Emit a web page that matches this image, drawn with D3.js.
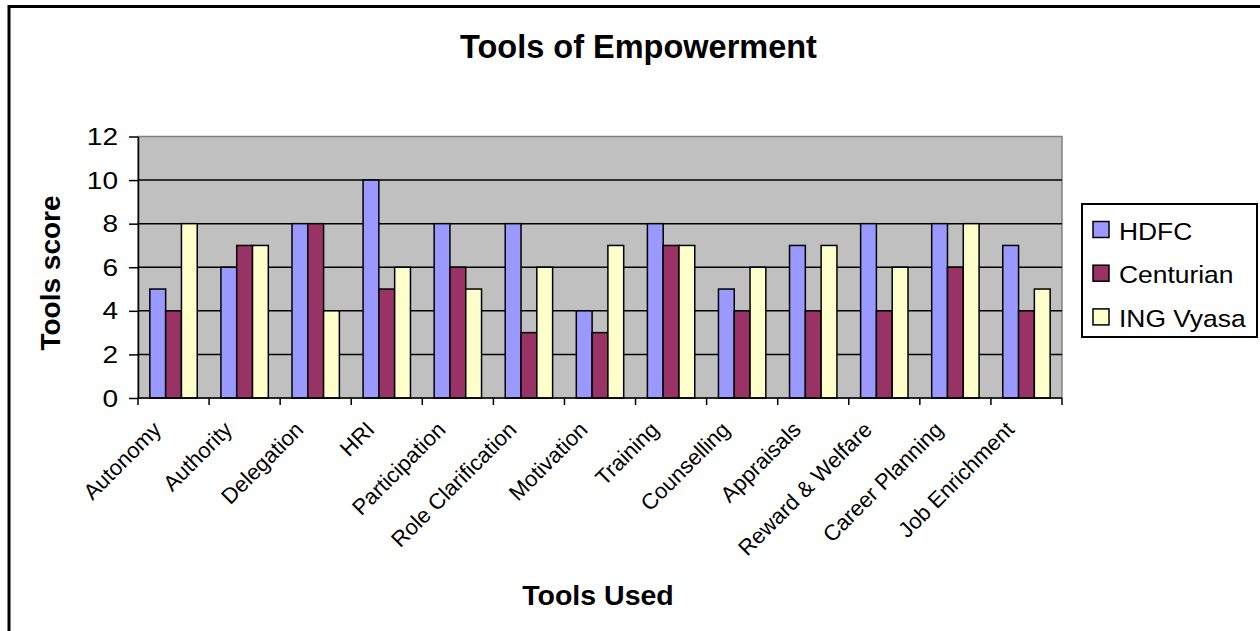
<!DOCTYPE html>
<html>
<head>
<meta charset="utf-8">
<script src="https://cdn.jsdelivr.net/npm/d3@7"></script>
<style>
  html, body { margin: 0; padding: 0; background: #fff; }
  svg { display: block; font-family: "Liberation Sans", Arial, sans-serif; }
</style>
</head>
<body>
<svg id="chart" width="1260" height="631"></svg>
<script>
const categories = ["Autonomy", "Authority", "Delegation", "HRI", "Participation", "Role Clarification",
  "Motivation", "Training", "Counselling", "Appraisals", "Reward & Welfare", "Career Planning", "Job Enrichment"];
const seriesNames = ["HDFC", "Centurian", "ING Vyasa"];
const hdfc      = [5, 6, 8, 10, 8, 8, 4, 8, 5, 7, 8, 8, 7];
const centurian = [4, 7, 8, 5, 6, 3, 3, 7, 4, 4, 4, 6, 4];
const ingVyasa  = [8, 7, 4, 6, 5, 6, 7, 7, 6, 7, 6, 8, 5];
const yTicks = [0, 2, 4, 6, 8, 10, 12];
const gridTicks = [2, 4, 6, 8, 10];
const colors = ["#9999FF", "#993366", "#FFFFCC"];
const titleText = "Tools of Empowerment";
const xTitle = "Tools Used";
const yTitle = "Tools score";

(function () {
const seriesValues = [hdfc, centurian, ingVyasa];
const table = categories.map((c, i) => ({
  category: c,
  values: seriesNames.map((s, j) => ({ series: s, value: seriesValues[j][i] }))
}));

const svg = d3.select("#chart");
const pLeft = 138, pRight = 1062, pTop = 136.5, pBottom = 398;

// outer frame
svg.append("rect").attr("x", 9).attr("y", 6.5).attr("width", 1400).attr("height", 800)
  .attr("fill", "none").attr("stroke", "#000").attr("stroke-width", 3);

const x0 = d3.scaleBand().domain(categories).range([pLeft, pRight]).paddingInner(0).paddingOuter(0);
const x1 = d3.scaleBand().domain(seriesNames).range([0, x0.bandwidth()]).paddingInner(0).paddingOuter(0.75);
const y = d3.scaleLinear().domain([0, 12]).range([pBottom, pTop]);
const color = d3.scaleOrdinal().domain(seriesNames).range(colors);

// plot area
svg.append("rect").attr("x", pLeft).attr("y", pTop).attr("width", pRight - pLeft).attr("height", pBottom - pTop)
  .attr("fill", "#C0C0C0").attr("stroke", "#808080").attr("stroke-width", 1.5);

// gridlines
svg.append("g").selectAll("line").data(gridTicks).join("line")
  .attr("x1", pLeft).attr("x2", pRight)
  .attr("y1", d => y(d)).attr("y2", d => y(d))
  .attr("stroke", "#000").attr("stroke-width", 1.5);

// bars
const groups = svg.append("g").selectAll("g").data(table).join("g")
  .attr("transform", d => `translate(${x0(d.category)},0)`);
groups.selectAll("rect").data(d => d.values).join("rect")
  .attr("x", d => x1(d.series))
  .attr("width", x1.bandwidth())
  .attr("y", d => y(d.value))
  .attr("height", d => y(0) - y(d.value))
  .attr("fill", d => color(d.series))
  .attr("stroke", "#000").attr("stroke-width", 1.5);

// y axis
const yAxis = svg.append("g").attr("transform", `translate(${pLeft},0)`)
  .call(d3.axisLeft(y).tickValues(yTicks).tickSize(9).tickSizeOuter(0).tickFormat(d3.format("d")));
yAxis.select(".domain").attr("stroke", "#000").attr("stroke-width", 1.5);
yAxis.selectAll(".tick line").attr("stroke", "#000").attr("stroke-width", 1.5);
yAxis.selectAll(".tick text")
  .attr("x", 0).attr("dy", null)
  .attr("transform", "translate(-20,8) scale(1.22,1)")
  .attr("font-size", 23).attr("fill", "#000")
  .attr("font-family", "Liberation Sans, Arial, sans-serif");

// x axis line
svg.append("line").attr("x1", pLeft).attr("x2", pRight).attr("y1", y(0)).attr("y2", y(0))
  .attr("stroke", "#000").attr("stroke-width", 1.5);
// x ticks at band boundaries
const boundaries = d3.range(categories.length + 1).map(i => x0.range()[0] + i * x0.step());
svg.append("g").selectAll("line").data(boundaries).join("line")
  .attr("x1", d => d).attr("x2", d => d).attr("y1", y(0)).attr("y2", y(0) + 7)
  .attr("stroke", "#000").attr("stroke-width", 1.5);

// x labels
svg.append("g").selectAll("text").data(categories).join("text")
  .attr("transform", d => `translate(${x0(d) + x0.bandwidth() / 2 - 11},${y(0) + 33}) rotate(-45)`)
  .attr("text-anchor", "end")
  .attr("font-size", 22).attr("fill", "#000")
  .text(d => d);

// titles
svg.append("text").attr("x", 638.5).attr("y", 58).attr("text-anchor", "middle")
  .attr("font-size", 32.5).attr("font-weight", "bold").text(titleText);
svg.append("text").attr("x", 598).attr("y", 605).attr("text-anchor", "middle")
  .attr("font-size", 28.5).attr("font-weight", "bold").text(xTitle);
svg.append("text").attr("transform", "translate(60,273) rotate(-90)").attr("text-anchor", "middle")
  .attr("font-size", 28).attr("font-weight", "bold").text(yTitle);

// legend
const legend = svg.append("g");
legend.append("rect").attr("x", 1082).attr("y", 204).attr("width", 175).attr("height", 133)
  .attr("fill", "#fff").attr("stroke", "#000").attr("stroke-width", 2);
const items = legend.selectAll("g.item").data(seriesNames).join("g").attr("class", "item")
  .attr("transform", (d, i) => `translate(0,${229.5 + i * 43.7})`);
items.append("rect").attr("x", 1093).attr("y", -8).attr("width", 16).attr("height", 16)
  .attr("fill", d => color(d)).attr("stroke", "#000").attr("stroke-width", 1.5);
items.append("text").attr("transform", "translate(1119,10) scale(1.1,1)").attr("font-size", 24).attr("fill", "#000")
  .text(d => d);
})();
</script>
</body>
</html>
